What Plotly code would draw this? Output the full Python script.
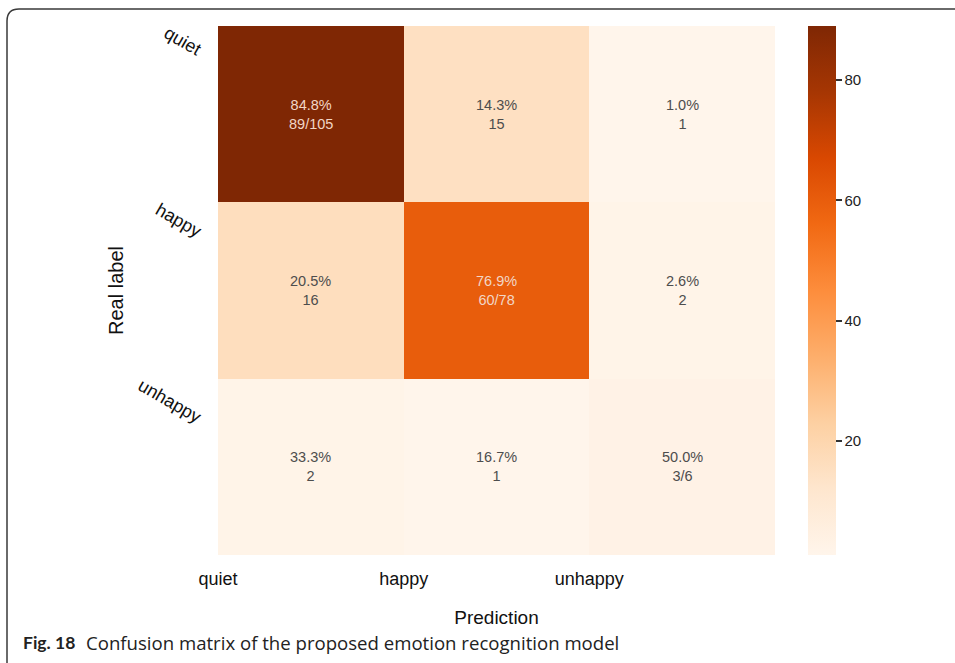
import plotly.graph_objects as go

# Confusion matrix data
classes = ["quiet", "happy", "unhappy"]
counts = [
    [89, 15, 1],
    [16, 60, 2],
    [2, 1, 3],
]
row_totals = [sum(r) for r in counts]

W, H = 955, 663
ML, MR, MT, MB = 218, 180, 26, 108
PW, PH = W - ML - MR, H - MT - MB

fig = go.Figure()

centers = [i + 0.5 for i in range(len(classes))]
fig.add_trace(go.Heatmap(
    z=counts,
    x=centers,
    y=centers,
    colorscale="Oranges",
    zmin=min(min(r) for r in counts),
    zmax=max(max(r) for r in counts),
    xgap=0, ygap=0,
    hoverinfo="skip",
    colorbar=dict(
        x=(808 - ML) / PW, xanchor="left", xpad=0,
        y=0.5, yanchor="middle", len=1.0, lenmode="fraction", ypad=0,
        thickness=28, outlinewidth=0,
        tickvals=[20, 40, 60, 80],
        ticks="outside", ticklen=6, tickwidth=1.5, tickcolor="#333",
        tickfont=dict(family="Liberation Sans", size=15, color="#222"),
    ),
))

# Cell labels: percentage of the row, plus count (diagonal shows count/total)
zmax = max(max(r) for r in counts)
for i, row in enumerate(counts):
    for j, v in enumerate(row):
        pct = 100.0 * v / row_totals[i]
        second = f"{v}/{row_totals[i]}" if i == j else f"{v}"
        dark = v > zmax * 0.5
        fig.add_annotation(
            x=centers[j], y=centers[i], xref="x", yref="y",
            text=f"{pct:.1f}%<br>{second}", showarrow=False,
            font=dict(family="Liberation Sans", size=14.5,
                      color="#f2d6c6" if dark else "#4d4d4d"),
        )

# Row labels, slanted and hung from the top edge of each row
for i, name in enumerate(classes):
    fig.add_annotation(
        x=0, xref="paper", xanchor="right", xshift=-11,
        y=i, yref="y", yanchor="top", yshift=6,
        text=name, textangle=30, showarrow=False,
        font=dict(family="Liberation Sans", size=18, color="#111"),
    )

fig.update_xaxes(
    range=[0, len(classes)],
    tickvals=list(range(len(classes))),
    ticktext=classes,
    ticks="", showgrid=False, zeroline=False, showline=False,
    tickfont=dict(family="Liberation Sans", size=18, color="#111"),
    ticklabelstandoff=11,
    title=dict(text="Prediction", standoff=22,
               font=dict(family="Liberation Sans", size=19, color="#111")),
)
fig.update_yaxes(
    range=[len(classes), 0],
    tickvals=list(range(len(classes))),
    showticklabels=False,
    ticks="", showgrid=False, zeroline=False, showline=False,
    title=dict(text="Real label", standoff=88,
               font=dict(family="Liberation Sans", size=20, color="#111")),
)

# Frame around the figure with a rounded top-left corner
def px_x(p):
    return (p - ML) / PW

def px_y(p):
    return (H - MB - p) / PH

r = 12
x0, y0 = 7, 9
path = (f"M {px_x(x0)},{px_y(H + 20)} L {px_x(x0)},{px_y(y0 + r)} "
        f"Q {px_x(x0)},{px_y(y0)} {px_x(x0 + r)},{px_y(y0)} "
        f"L {px_x(W + 20)},{px_y(y0)}")
fig.add_shape(type="path", path=path, xref="paper", yref="paper",
              line=dict(color="#3a3a3a", width=1.5))

# Caption
fig.add_annotation(
    x=px_x(21), y=px_y(642), xref="paper", yref="paper",
    xanchor="left", yanchor="middle", showarrow=False,
    text="<b>Fig. 18</b>",
    font=dict(family="Lato", size=17.5, color="#222"),
)
fig.add_annotation(
    x=px_x(84), y=px_y(642), xref="paper", yref="paper",
    xanchor="left", yanchor="middle", showarrow=False,
    text="Confusion matrix of the proposed emotion recognition model",
    font=dict(family="Open Sans", size=18.6, color="#222"),
)

fig.update_layout(
    width=W, height=H,
    margin=dict(l=ML, r=MR, t=MT, b=MB),
    paper_bgcolor="white", plot_bgcolor="white",
    showlegend=False,
)

fig.write_html("out.html")
